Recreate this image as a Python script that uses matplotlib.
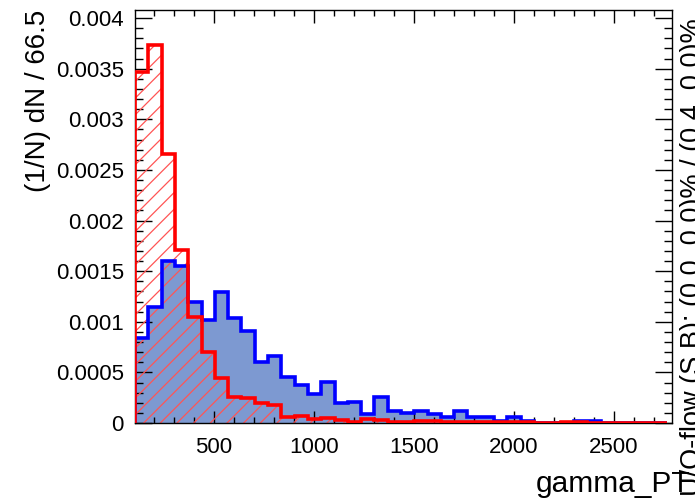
import numpy as np
import matplotlib.pyplot as plt
from matplotlib.ticker import MultipleLocator

plt.rcParams['font.family'] = ['Liberation Sans', 'DejaVu Sans']
plt.rcParams['hatch.linewidth'] = 0.9

# binning of gamma_PT: 40 bins of width 66.5
x_lo = 105.0
bin_w = 66.5
n_bins = 40
edges = x_lo + bin_w * np.arange(n_bins + 1)

# normalised signal (blue) and background (red) shapes, (1/N) dN per bin
signal = [0.00084, 0.00115, 0.00160, 0.00155, 0.00120, 0.00102, 0.00129, 0.00104,
          0.00091, 0.000605, 0.000665, 0.000457, 0.000375, 0.000283, 0.000402, 0.000195,
          0.000204, 0.000089, 0.000254, 0.000115, 0.000096, 0.000118, 0.000086, 0.00006,
          0.000115, 0.00006, 0.00006, 0.000023, 0.000056, 0.00002, 0.0,
          0.0, 0.0, 0.00002, 0.00002, 0.0, 0.0, 0.0, 0.0, 0.0]
background = [0.00347, 0.00373, 0.00266, 0.00171, 0.00105, 0.00070, 0.00044, 0.00026,
              0.000244, 0.000195, 0.000178, 0.00006, 0.00007, 0.00004, 0.00005, 0.000025,
              0.00001, 0.00004, 0.00003, 0.00001, 0.00001, 0.000015, 0.000015, 0.00001,
              0.000005, 0.000005, 0.000005, 0.00001, 0.00001, 0.00001, 0.0,
              0.0, 0.00001, 0.000005, 0.0, 0.0, 0.0, 0.0, 0.0, 0.0]

W, H = 695, 498
fig = plt.figure(figsize=(W / 100, H / 100), dpi=100)
ax = fig.add_axes([135 / W, 1 - 423 / H, (672 - 135) / W, (423 - 10) / H])

# signal: filled + outline
ax.stairs(signal, edges, fill=True, color='#7d99d1', linewidth=0, zorder=1)
# background: red hatching + outline
ax.stairs(background, edges, fill=True, facecolor='none', edgecolor='#ff5555',
          hatch='//', linewidth=0, zorder=2)
ax.stairs(signal, edges, color='#0000ff', linewidth=2.6, zorder=3)
ax.stairs(background, edges, color='#ff0000', linewidth=2.6, zorder=4)

ax.set_xlim(x_lo, edges[-1] + 25)
ax.set_ylim(0, 0.00408)

ax.xaxis.set_major_locator(MultipleLocator(500))
ax.xaxis.set_minor_locator(MultipleLocator(100))
ax.yaxis.set_major_locator(MultipleLocator(0.0005))
ax.yaxis.set_minor_locator(MultipleLocator(0.0001))
ax.yaxis.set_major_formatter(plt.FuncFormatter(lambda v, p: '0' if v == 0 else f'{v:g}'))

ax.tick_params(which='both', direction='in', top=True, right=True, width=1,
               labelsize=16)
ax.tick_params(axis='x', which='major', length=9, pad=10)
ax.tick_params(axis='x', which='minor', length=4.5)
ax.tick_params(axis='y', which='major', length=12, pad=8)
ax.tick_params(axis='y', which='minor', length=6)
for s in ax.spines.values():
    s.set_linewidth(1)

fig.text(38 / W, 1 - 10 / H, '(1/N) dN / 66.5', rotation=90, ha='center', va='top',
         fontsize=20)
fig.text(690 / W, 1 - 484 / H, 'gamma_PT', ha='right', va='center', fontsize=21.5)
fig.text(680 / W, 2 / H, 'U/O-flow (S,B): (0.0, 0.0)% / (0.4, 0.0)%', rotation=90,
         ha='left', va='bottom', fontsize=19.5)

fig.savefig('out.png', dpi=100)
